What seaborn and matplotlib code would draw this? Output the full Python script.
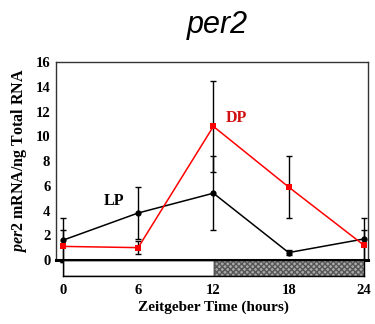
import numpy as np
import pandas as pd
import seaborn as sns
import matplotlib.pyplot as plt

# Data
zt = [0, 6, 12, 18, 24]
lp_mean = [1.6, 3.8, 5.4, 0.6, 1.7]
lp_err = [1.8, 2.1, 3.0, 0.2, 1.7]
dp_mean = [1.1, 1.0, 10.8, 5.9, 1.2]
dp_err = [1.3, 0.5, 3.7, 2.5, 1.2]
x_ticks = [0, 6, 12, 18, 24]
y_ticks = [0, 2, 4, 6, 8, 10, 12, 14, 16]

df = pd.DataFrame({
    "ZT": zt * 2,
    "value": lp_mean + dp_mean,
    "group": ["LP"] * len(zt) + ["DP"] * len(zt),
})

sns.set_style("white")
plt.rcParams["text.color"] = "black"
plt.rcParams["axes.labelcolor"] = "black"
plt.rcParams["xtick.color"] = "black"
plt.rcParams["ytick.color"] = "black"
plt.rcParams["mathtext.fontset"] = "custom"
plt.rcParams["mathtext.it"] = "Liberation Serif:italic:bold"
plt.rcParams["mathtext.rm"] = "Liberation Serif:bold"
serif = ["Liberation Serif", "DejaVu Serif"]

fig = plt.figure(figsize=(3.75, 3.24), dpi=100)
ax = fig.add_axes([0.149, 0.1975, 0.832, 0.611])

# error bars (black for both series)
ax.errorbar(zt, lp_mean, yerr=lp_err, fmt="none", ecolor="black", elinewidth=1,
            capsize=2.5, capthick=1, clip_on=False, zorder=2)
ax.errorbar(zt, dp_mean, yerr=dp_err, fmt="none", ecolor="black", elinewidth=1,
            capsize=2.5, capthick=1, clip_on=False, zorder=2)

sns.lineplot(data=df, x="ZT", y="value", hue="group", style="group",
             palette={"LP": "black", "DP": "red"},
             markers={"LP": "o", "DP": "s"}, dashes=False,
             markersize=4.5, markeredgewidth=0, linewidth=1.1,
             legend=False, ax=ax, zorder=3, clip_on=False)

ax.set_xlim(-0.56, 24.32)
ax.set_ylim(0, 16)
ax.set_xticks([])
ax.set_yticks(y_ticks)
ax.set_yticklabels([str(v) for v in y_ticks], fontfamily=serif, fontweight="bold", fontsize=10.5)
ax.tick_params(axis="y", length=0, pad=4)
ax.set_xlabel("")
ax.set_ylabel(r"$per2$ mRNA/ng Total RNA", fontfamily=serif, fontweight="bold",
              fontsize=11.5, labelpad=5)
for side in ["left", "top", "right"]:
    ax.spines[side].set_linewidth(1.0)
    ax.spines[side].set_color("#333333")
ax.spines["bottom"].set_linewidth(2.2)
ax.spines["bottom"].set_color("black")

ax.text(4.1, 4.8, "LP", color="black", fontsize=11.5, fontweight="bold", fontfamily=serif,
        ha="center", va="center")
ax.text(13.8, 11.5, "DP", color="#d01010", fontsize=11.5, fontweight="bold", fontfamily=serif,
        ha="center", va="center")

# light/dark bar under the axis
bar = fig.add_axes([0.168, 0.148, 0.803, 0.049])
bar.set_xlim(0, 24)
bar.set_ylim(0, 1)
bar.axvspan(0, 12, facecolor="white", edgecolor="black", linewidth=1)
bar.axvspan(12, 24, facecolor="#a8a8a8", edgecolor="#555555", hatch="xxxxxx", linewidth=1)
bar.set_yticks([])
bar.set_xticks(x_ticks)
bar.set_xticklabels([str(v) for v in x_ticks], fontfamily=serif, fontweight="bold", fontsize=10.5)
bar.tick_params(axis="x", length=0, pad=6)
for side in bar.spines:
    bar.spines[side].set_linewidth(1)
    bar.spines[side].set_color("black")
bar.set_xlabel("Zeitgeber Time (hours)", fontfamily=serif, fontweight="bold", fontsize=11, labelpad=2)

fig.suptitle("per2", x=0.58, y=0.97, fontsize=22, fontstyle="italic", fontfamily="Liberation Sans")

fig.savefig("out.png", dpi=100, facecolor="white")
